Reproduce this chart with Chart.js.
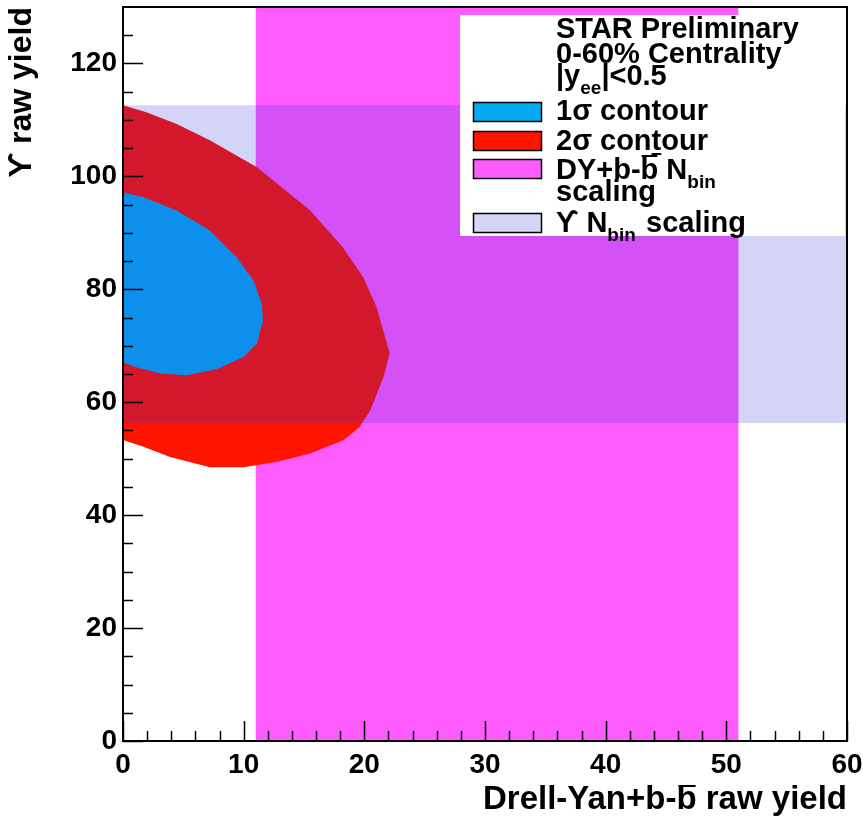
<!DOCTYPE html>
<html>
<head>
<meta charset="utf-8">
<script src="https://cdn.jsdelivr.net/npm/chart.js@4/dist/chart.umd.min.js"></script>
<style>
  body { margin: 0; background: #fff; }
  canvas { display: block; }
</style>
</head>
<body>
<canvas id="chart" width="863" height="824"></canvas>
<script>
const FONT = '"Liberation Sans", Arial, Helvetica, sans-serif';

// axis ranges and ticks
const xRange = [0, 60];
const yRange = [0, 130];
const xMajor = 10, xMinor = 2;
const yMajor = 20, yMinor = 5;

// 2 sigma contour, vertices
const redX = [0, 2, 4.45, 7.2, 11.1, 15.5, 18.2, 19.9, 21.0, 22.1, 21.6, 20.5, 19.6, 18.3, 15.5, 12.7, 10.0, 7.2, 3.9, 1.7, 0];
const redY = [112.6, 111.3, 109.3, 106.4, 101.6, 94.0, 87.5, 82.2, 76.9, 68.7, 64.5, 58.6, 55.6, 53.3, 50.9, 49.4, 48.5, 48.5, 50.3, 52.1, 53.3];

// 1 sigma contour
const blueX = [0, 1.7, 4.4, 7.2, 9.4, 10.8, 11.5, 11.6, 11.1, 10.0, 7.8, 5.3, 3.1, 1.1, 0];
const blueY = [97.2, 96.3, 94.0, 90.4, 85.7, 81.6, 77.5, 74.5, 70.4, 68.0, 65.9, 64.8, 65.1, 66.2, 67.1];

// DY+b-bbar Nbin scaling band (x range), Upsilon Nbin scaling band (y range)
const dyBand = [11, 51];
const upsBand = [56.3, 112.6];

const magentaFill = '#ff5cff';
const hatchFill = 'rgba(40, 40, 215, 0.2)';
const blueFill = '#06aaf0';
const redFill = '#ff1400';

const poly = (xs, ys) => xs.map((x, i) => ({ x: x, y: ys[i] })).concat([{ x: xs[0], y: ys[0] }]);
const rect = (x0, x1, y0, y1) => poly([x0, x1, x1, x0], [y0, y0, y1, y1]);

function shape(label, data, fill, order) {
  return {
    label: label, data: data, order: order,
    backgroundColor: fill, borderColor: 'rgba(0,0,0,0)', borderWidth: 0,
    pointRadius: 0, tension: 0, fill: 'shape'
  };
}

function drawParts(c, x, y, parts) {
  for (const p of parts) {
    if (p.x !== undefined) x = p.x;
    c.font = 'bold ' + (p.sub ? 19 : 29) + 'px ' + FONT;
    c.fillText(p.t, x, y + (p.sub ? 9 : 0));
    const w = c.measureText(p.t).width;
    if (p.over) c.fillRect(x + 1, y - 24, w - 2, 2);
    if (p.under) c.fillRect(x, y + 3, w, 2);
    x += w;
  }
}

const rootLegend = {
  id: 'rootLegend',
  afterDatasetsDraw(chart) {
    const c = chart.ctx;
    c.save();
    c.fillStyle = '#fff';
    c.fillRect(460, 15, 385, 221);
    const boxes = [[102, blueFill], [131, redFill], [159, magentaFill], [213, hatchFill]];
    for (const [top, f] of boxes) {
      c.fillStyle = f;
      c.fillRect(473, top, 69, 20);
      c.strokeStyle = '#000';
      c.lineWidth = 1.5;
      c.strokeRect(473.5, top + 0.5, 68, 19);
    }
    c.fillStyle = '#000';
    c.textBaseline = 'alphabetic';
    c.textAlign = 'left';
    const tx = 556;
    drawParts(c, tx, 38, [{ t: 'STAR Preliminary' }]);
    drawParts(c, tx, 63, [{ t: '0-60% Centrality' }]);
    drawParts(c, tx, 85, [{ t: '|y' }, { t: 'ee', sub: true }, { t: '|<0.5' }]);
    drawParts(c, tx, 120, [{ t: '1\u03c3 contour' }]);
    drawParts(c, tx, 150, [{ t: '2\u03c3 con' }, { t: 't', under: true }, { t: 'our' }]);
    drawParts(c, tx, 179, [{ t: 'DY+b-' }, { t: 'b', over: true }, { t: ' N' }, { t: 'bin', sub: true }]);
    drawParts(c, tx, 201, [{ t: 'scaling' }]);
    drawParts(c, tx, 232, [{ t: '\u03d2 N' }, { t: 'bin', sub: true }, { t: 'scaling', x: 646 }]);
    c.restore();
  }
};

const rootFrame = {
  id: 'rootFrame',
  afterDraw(chart) {
    const c = chart.ctx, a = chart.chartArea;
    const xs = chart.scales.x, ys = chart.scales.y;
    c.save();
    c.strokeStyle = '#000';
    c.lineWidth = 1.5;
    c.beginPath();
    for (let v = xRange[0]; v <= xRange[1]; v += xMinor) {
      const px = Math.round(xs.getPixelForValue(v)) + 0.5;
      const len = v % xMajor === 0 ? 20 : 10;
      c.moveTo(px, a.bottom);
      c.lineTo(px, a.bottom - len);
    }
    for (let v = yRange[0]; v < yRange[1]; v += yMinor) {
      const py = Math.round(ys.getPixelForValue(v)) + 0.5;
      const len = v % yMajor === 0 ? 20 : 10;
      c.moveTo(a.left, py);
      c.lineTo(a.left + len, py);
    }
    c.stroke();
    c.lineWidth = 2;
    c.strokeRect(a.left, a.top, a.right - a.left, a.bottom - a.top);
    // overline of the anti-b in the x title
    c.font = 'bold 33px ' + FONT;
    const wEnd = c.measureText(' raw yield').width;
    const wB = c.measureText('b').width;
    c.fillStyle = '#000';
    c.fillRect(a.right - wEnd - wB + 2, 785, wB - 3, 2);
    c.restore();
  }
};

new Chart(document.getElementById('chart'), {
  type: 'line',
  data: {
    datasets: [
      shape('\u03d2 N_bin scaling', rect(xRange[0], xRange[1], upsBand[0], upsBand[1]), hatchFill, 1),
      shape('1\u03c3 contour', poly(blueX, blueY), blueFill, 2),
      shape('2\u03c3 contour', poly(redX, redY), redFill, 3),
      shape('DY+b-b N_bin scaling', rect(dyBand[0], dyBand[1], yRange[0], yRange[1]), magentaFill, 4)
    ]
  },
  options: {
    responsive: false,
    animation: false,
    devicePixelRatio: 1,
    layout: { padding: { left: 0, right: 16, top: 7, bottom: 0 } },
    plugins: { legend: { display: false }, tooltip: { enabled: false } },
    scales: {
      x: {
        type: 'linear', min: xRange[0], max: xRange[1],
        grid: { display: false, drawTicks: false },
        border: { display: false },
        ticks: { stepSize: xMajor, padding: 7, color: '#000', font: { family: FONT, size: 28, weight: 'bold' } },
        title: { display: true, text: 'Drell-Yan+b-b raw yield', align: 'end', color: '#000',
                 padding: { top: 0, bottom: 4 }, font: { family: FONT, size: 33, weight: 'bold' } },
        afterFit(s) { s.height = 83; s.paddingLeft = 0; s.paddingRight = 0; }
      },
      y: {
        type: 'linear', min: yRange[0], max: yRange[1],
        grid: { display: false, drawTicks: false },
        border: { display: false },
        ticks: { stepSize: yMajor, includeBounds: false, padding: 6, color: '#000', font: { family: FONT, size: 28, weight: 'bold' } },
        title: { display: true, text: '\u03d2 raw yield', align: 'end', color: '#000',
                 padding: { top: 3, bottom: 0 }, font: { family: FONT, size: 32, weight: 'bold' } },
        afterFit(s) { s.width = 123; s.paddingTop = 0; s.paddingBottom = 0; }
      }
    }
  },
  plugins: [rootLegend, rootFrame]
});
</script>
</body>
</html>
